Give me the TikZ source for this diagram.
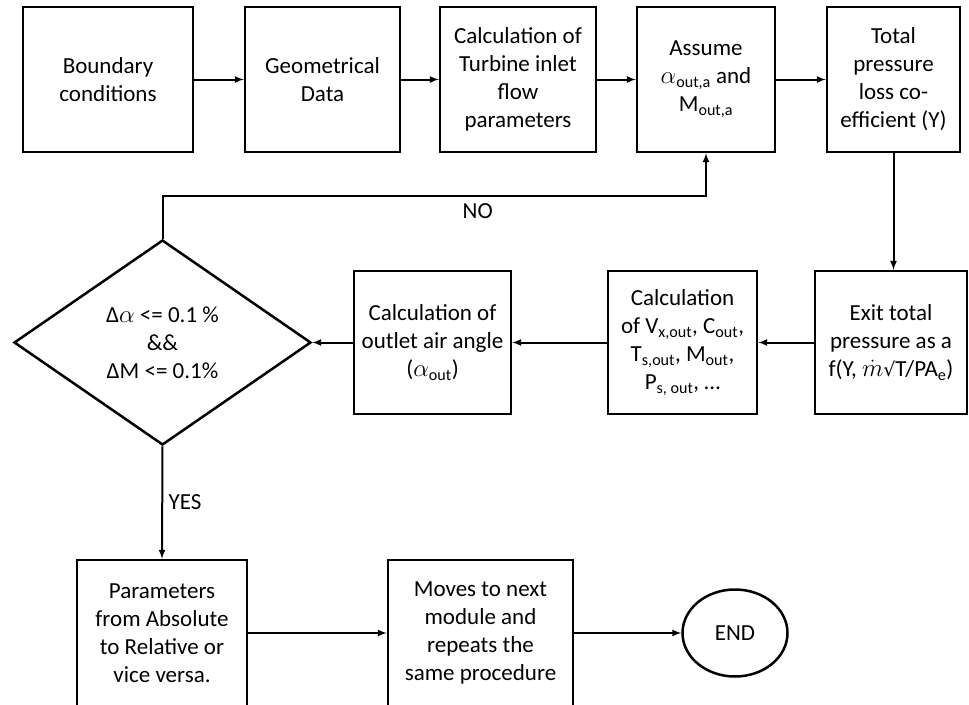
\documentclass[tikz,border=0pt]{standalone}
\usepackage{fontspec}
\setmainfont{Carlito}
\newfontfamily\symfont{DejaVu Sans}
\usetikzlibrary{shapes.geometric}
\newcommand{\sbs}[1]{\textsubscript{#1}}

\begin{document}
\begin{tikzpicture}[x=1pt,y=-1pt,>=latex,
  font=\fontsize{23}{28}\selectfont,
  box/.style={draw,align=center,line width=2.5pt,minimum height=145pt,inner sep=2pt},
  decision/.style={draw,diamond,align=center,line width=2.5pt,minimum width=297pt,minimum height=205pt,inner sep=0pt},
  term/.style={draw,ellipse,line width=2.5pt,minimum width=105pt,minimum height=87pt},
  link/.style={->,line width=2pt}]
  \useasboundingbox (0,0) rectangle (969,704);

  % top row
  \node[box,minimum width=170pt] (bc)  at (108,79.5)   {Boundary\\conditions};
  \node[box,minimum width=155pt] (geo) at (322.5,79.5) {Geometrical\\Data};
  \node[box,minimum width=156pt] (tin) at (518,79.5)   {Calculation of\\Turbine inlet\\flow\\parameters};
  \node[box,minimum width=138pt] (asm) at (706,79.5)   {Assume\\$\alpha$\sbs{out,a} and\\M\sbs{out,a}};
  \node[box,minimum width=133pt] (tpl) at (893.5,79.5) {Total\\pressure\\loss co-\\efficient (Y)};

  % middle row
  \node[box,minimum width=152pt,minimum height=143pt] (ext) at (891,342.5)
    {Exit total\\pressure as a\\f(Y, $\smash{\dot{m}}${\symfont\fontsize{19}{28}\selectfont √}T/PA\sbs{e})};
  \node[box,minimum width=149pt,minimum height=143pt] (cal) at (682.5,342.5)
    {Calculation\\of V\sbs{x,out}, C\sbs{out},\\T\sbs{s,out}, M\sbs{out},\\P\sbs{s, out}, \ldots};
  \node[box,minimum width=157pt,minimum height=143pt] (oaa) at (432.5,342.5)
    {Calculation of\\outlet air angle\\($\alpha$\sbs{out})};
  \node[decision] (chk) at (162.5,342.5) {Δ$\alpha$ <= 0.1 \%\\\&\&\\ΔM <= 0.1\%};

  % bottom row
  \node[box,minimum width=170pt,minimum height=146pt] (par) at (162,633)
    {Parameters\\from Absolute\\to Relative or\\vice versa.};
  \node[box,minimum width=185pt,minimum height=146pt] (mov) at (480.5,633)
    {Moves to next\\module and\\repeats the\\same procedure};
  \node[term] (fin) at (735,633) {END};

  \coordinate (nobend) at (706,196);

  \path[link]
    (bc)  edge (geo)
    (geo) edge (tin)
    (tin) edge (asm)
    (asm) edge (tpl)
    (ext) edge (cal)
    (cal) edge (oaa)
    (oaa) edge (chk)
    (par) edge (mov)
    (mov) edge (fin);
  \draw[link] (tpl.south) -- (tpl.south |- ext.north);
  \draw[link] (chk.north) |- (nobend) node[pos=0.79,below=3pt] {NO} -- (asm.south);
  \draw[link] (chk.south) -- node[right=2pt] {YES} (par.north);
\end{tikzpicture}
\end{document}
